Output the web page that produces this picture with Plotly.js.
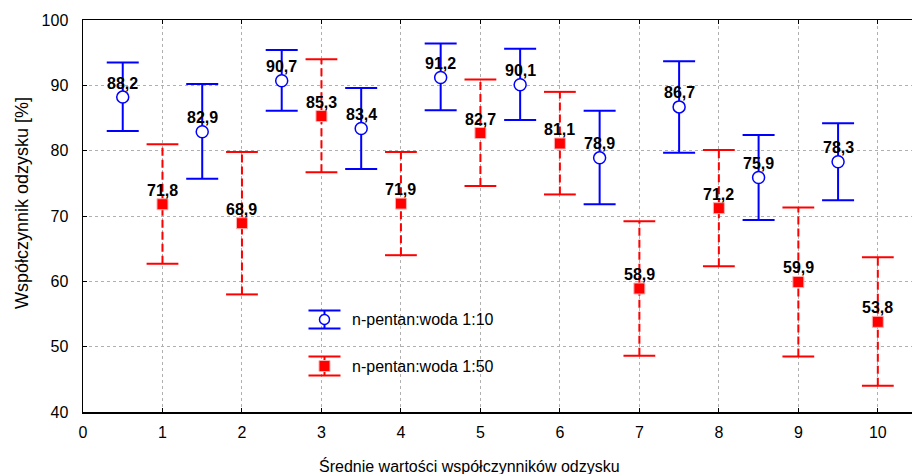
<!DOCTYPE html>
<html>
<head>
<meta charset="utf-8">
<script src="https://cdn.plot.ly/plotly-3.0.1.min.js"></script>
<style>html,body{margin:0;padding:0;background:#fff;}#chart{width:912px;height:474px;}</style>
</head>
<body>
<div id="chart"></div>
<script>
const blueName = 'n-pentan:woda 1:10';
const redName = 'n-pentan:woda 1:50';
const blueX = [0.5, 1.5, 2.5, 3.5, 4.5, 5.5, 6.5, 7.5, 8.5, 9.5];
const blueY = [88.2, 82.9, 90.7, 83.4, 91.2, 90.1, 78.9, 86.7, 75.9, 78.3];
const blueHi = [93.5, 90.2, 95.4, 89.6, 96.4, 95.6, 86.1, 93.7, 82.4, 84.2];
const blueLo = [83.0, 75.7, 86.1, 77.2, 86.2, 84.7, 71.8, 79.7, 69.4, 72.4];
const redX = [1, 2, 3, 4, 5, 6, 7, 8, 9, 10];
const redY = [71.8, 68.9, 85.3, 71.9, 82.7, 81.1, 58.9, 71.2, 59.9, 53.8];
const redHi = [81.0, 79.8, 94.0, 79.8, 90.9, 89.0, 69.2, 80.1, 71.3, 63.7];
const redLo = [62.7, 58.0, 76.7, 64.0, 74.6, 73.3, 48.6, 62.3, 48.5, 44.0];
const xTicks = [0, 1, 2, 3, 4, 5, 6, 7, 8, 9, 10];
const yTicks = [40, 50, 60, 70, 80, 90, 100];

const FONT = 'Liberation Sans, Arial, sans-serif';
const fmt = v => v.toFixed(1).replace('.', ',');
const capW = 0.2;

// red dashed whiskers built from the data arrays
const rvx = [], rvy = [], rcx = [], rcy = [];
redX.forEach((x, i) => {
  rvx.push(x, x, null); rvy.push(redLo[i], redHi[i], null);
  rcx.push(x - capW, x + capW, null, x - capW, x + capW, null);
  rcy.push(redHi[i], redHi[i], null, redLo[i], redLo[i], null);
});

const labelFont = {family: FONT, size: 16, color: '#000', weight: 'bold'};

const traces = [
  {x: rvx, y: rvy, mode: 'lines', line: {color: '#ff0000', width: 2, dash: '8px,4px'}, showlegend: false, hoverinfo: 'skip'},
  {x: rcx, y: rcy, mode: 'lines', line: {color: '#ff0000', width: 2}, showlegend: false, hoverinfo: 'skip'},
  {
    x: blueX, y: blueY, name: blueName, mode: 'markers', showlegend: false,
    marker: {symbol: 'circle', size: 12, color: '#ffffff', line: {color: '#0000ff', width: 1.5}},
    error_y: {type: 'data', symmetric: false, array: blueHi.map((h, i) => h - blueY[i]), arrayminus: blueLo.map((l, i) => blueY[i] - l), color: '#0000ff', thickness: 2, width: 16}
  },
  {
    x: redX, y: redY, name: redName, mode: 'markers', showlegend: false,
    marker: {symbol: 'square', size: 11, color: '#ff0000', line: {color: '#ffb0b0', width: 1}}
  }
];

// hand-drawn legend (symbols with error-bar caps, as in the reference)
const L = {x: 0.2913, yBlue: 0.236, yRed: 0.1173, tx: 0.322};
function pshape(o) { return Object.assign({xref: 'paper', yref: 'paper', xsizemode: 'pixel', ysizemode: 'pixel'}, o); }
const shapes = [
  pshape({type: 'line', xanchor: L.x, yanchor: L.yBlue, x0: -16, x1: 16, y0: 9, y1: 9, line: {color: '#0000ff', width: 2}}),
  pshape({type: 'line', xanchor: L.x, yanchor: L.yBlue, x0: -16, x1: 16, y0: -9, y1: -9, line: {color: '#0000ff', width: 2}}),
  pshape({type: 'line', xanchor: L.x, yanchor: L.yBlue, x0: 0, x1: 0, y0: -9, y1: 9, line: {color: '#0000ff', width: 2}}),
  pshape({type: 'circle', xanchor: L.x, yanchor: L.yBlue, x0: -5, x1: 5, y0: -5, y1: 5, fillcolor: '#ffffff', line: {color: '#0000ff', width: 1.5}}),
  pshape({type: 'line', xanchor: L.x, yanchor: L.yRed, x0: -16, x1: 16, y0: 9.5, y1: 9.5, line: {color: '#ff0000', width: 2}}),
  pshape({type: 'line', xanchor: L.x, yanchor: L.yRed, x0: -16, x1: 16, y0: -9.5, y1: -9.5, line: {color: '#ff0000', width: 2}}),
  pshape({type: 'line', xanchor: L.x, yanchor: L.yRed, x0: 0, x1: 0, y0: -9.5, y1: 9.5, line: {color: '#ff0000', width: 2}}),
  pshape({type: 'rect', xanchor: L.x, yanchor: L.yRed, x0: -5.5, x1: 5.5, y0: -5.5, y1: 5.5, fillcolor: '#ff0000', line: {color: '#ffb0b0', width: 1}})
];

const valueLabels = [];
blueX.forEach((x, i) => valueLabels.push({x: x, y: blueY[i], text: fmt(blueY[i]), xref: 'x', yref: 'y', yshift: 14, xanchor: 'center', yanchor: 'middle', showarrow: false, font: labelFont}));
redX.forEach((x, i) => valueLabels.push({x: x, y: redY[i], text: fmt(redY[i]), xref: 'x', yref: 'y', yshift: 14, xanchor: 'center', yanchor: 'middle', showarrow: false, font: labelFont}));

const layout = {
  width: 912, height: 474,
  margin: {l: 83, r: 0, t: 20, b: 62},
  paper_bgcolor: '#fff', plot_bgcolor: '#fff',
  font: {family: FONT, size: 16, color: '#000'},
  showlegend: false,
  xaxis: {
    range: [0, 10.43], tickvals: xTicks, ticktext: xTicks.map(String),
    showgrid: true, gridcolor: '#b0b0b0', griddash: 'dot', gridwidth: 1,
    showline: true, linecolor: '#000', linewidth: 1.5, mirror: 'ticks',
    ticks: 'inside', ticklen: 4, tickcolor: '#000', zeroline: false,
    ticklabelstandoff: 5, tickfont: {size: 16}
  },
  yaxis: {
    range: [40, 100], tickvals: yTicks,
    showgrid: true, gridcolor: '#b0b0b0', griddash: 'dot', gridwidth: 1,
    showline: true, linecolor: '#000', linewidth: 1.5, mirror: false,
    ticks: 'inside', ticklen: 4, tickcolor: '#000', zeroline: false,
    ticklabelstandoff: 10, tickfont: {size: 16}
  },
  shapes: shapes,
  annotations: [
    {text: 'Średnie wartości współczynników odzysku', xref: 'paper', yref: 'paper',
      x: 0.466, y: 0, yshift: -54, xanchor: 'center', yanchor: 'middle', showarrow: false, font: {size: 16}},
    {text: 'Współczynnik odzysku [%]', xref: 'paper', yref: 'paper', textangle: -90,
      x: 0, xshift: -61, y: 0.533, xanchor: 'center', yanchor: 'middle', showarrow: false, font: {size: 18}},
    {text: blueName, xref: 'paper', yref: 'paper', x: L.tx, y: L.yBlue, xanchor: 'left', yanchor: 'middle', showarrow: false, font: {size: 16}},
    {text: redName, xref: 'paper', yref: 'paper', x: L.tx, y: L.yRed, xanchor: 'left', yanchor: 'middle', showarrow: false, font: {size: 16}}
  ].concat(valueLabels)
};

Plotly.newPlot('chart', traces, layout, {displayModeBar: false, staticPlot: true});
</script>
</body>
</html>
